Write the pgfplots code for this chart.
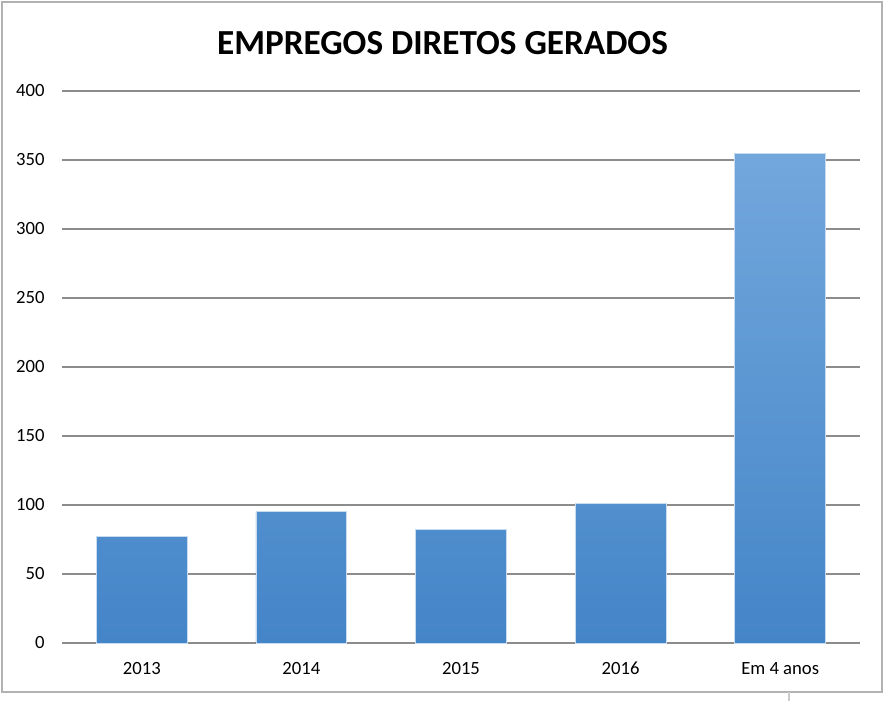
\documentclass[border=0pt]{standalone}
\usepackage{pgfplots}
\pgfplotsset{compat=1.18}
\usepackage{fontspec}
\setmainfont{Carlito}
\definecolor{barTop}{HTML}{72A7DC}
\definecolor{barBot}{HTML}{4485C8}
\definecolor{gridc}{HTML}{8C8C8C}
\begin{document}
\begin{tikzpicture}
\fill[white] (-46.5pt,-43.5pt) rectangle (618pt,482.25pt);
\draw[gray!60, line width=1.5pt] (-45pt,-36.75pt) rectangle (615pt,480.75pt);
\draw[gray!40, line width=0.8pt] (545.25pt,-36.75pt) -- (545.25pt,-43.5pt);
\begin{axis}[
  at={(0pt,0pt)}, anchor=south west,
  scale only axis,
  width=598.5pt, height=414pt,
  xmin=-0.5, xmax=4.5, ymin=0, ymax=400,
  ytick={0,50,...,400},
  xtick={0,1,2,3,4},
  xticklabels={2013,2014,2015,2016,Em 4 anos},
  ymajorgrids,
  grid style={gridc, line width=1.1pt},
  axis line style={draw=none},
  major tick length=0pt,
  tick style={draw=none},
  /pgf/number format/assume math mode=true,
  ticklabel style={font=\fontsize{14}{16}\selectfont, text=black},
  yticklabel style={anchor=east, xshift=-9.5pt},
  xticklabel style={anchor=base, yshift=-24pt},
  clip=false,
]
\addplot[ybar, bar width=0.57, draw=barTop!40, line width=0.6pt, shading=axis, top color=barTop, bottom color=barBot]
  coordinates {(0,77) (1,95) (2,82) (3,101) (4,355)};
\end{axis}
\node[anchor=base] at (285.4pt,441pt) {\bfseries\fontsize{26.4}{31}\selectfont EMPREGOS DIRETOS GERADOS};
\end{tikzpicture}
\end{document}
